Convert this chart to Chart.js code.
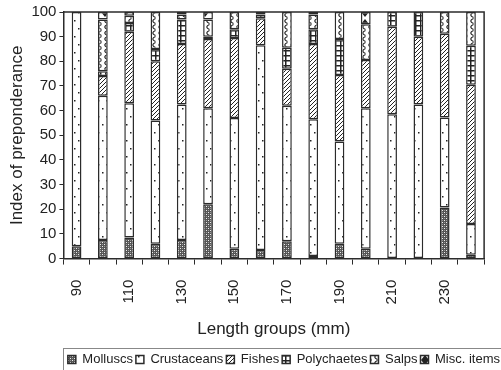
<!DOCTYPE html>
<html>
<head>
<meta charset="utf-8">
<script src="https://cdn.jsdelivr.net/npm/chart.js@4.4.0/dist/chart.umd.min.js"></script>
<style>
html, body { margin: 0; padding: 0; background: #fff; overflow: hidden; }
#wrap { width: 504px; height: 370px; }
</style>
</head>
<body>
<div id="wrap"><canvas id="chart"></canvas></div>
<script>
var lengthGroups = ['90', '100', '110', '120', '130', '140', '150', '160',
                    '170', '180', '190', '200', '210', '220', '230', '240'];

var molluscs    = [5,   7.5,  8.5, 6,  7.5, 22, 4,    3.5, 7,    1,    6,    4,    0,    0,    20.7, 1.5];
var crustaceans = [95,  58.5, 54.5, 50, 55, 39, 53,   83,  55,   55.5, 41.5, 57,   58.5, 62.5, 36.5, 12.5];
var fishes      = [0,   8,    29,  24, 24.5, 28, 32.5, 11,  15,   30.5, 27,   19.5, 35.5, 27.5, 34,   56.5];
var polychaetes = [0,   2,    3.5, 5,  10,  1,  3.5,  1.5, 8.5,  6,    14.5, 0,    6,    10,   0,    15.8];
var salps       = [0,   21,   3,   15, 2,   7,  7,    1,   14.5, 6,    11,   14.5, 0,    0,    8.8,  13.7];
var miscItems   = [0,   3,    1.5, 0,  1,   3,  0,    0,   0,    1,    0,    5,    0,    0,    0,    0];

var ink = '#2b2b2b';
var sans = "'Liberation Sans', Arial, sans-serif";

function makePattern(w, h, draw) {
  var c = document.createElement('canvas');
  c.width = w; c.height = h;
  var g = c.getContext('2d');
  g.fillStyle = '#fff';
  g.fillRect(0, 0, w, h);
  draw(g);
  return c.getContext('2d').createPattern(c, 'repeat');
}

// dense checker
var pMolluscs = makePattern(4, 4, function (g) {
  g.fillStyle = '#555';
  g.fillRect(0, 0, 4, 4);
  g.fillStyle = '#eee';
  g.fillRect(0, 0, 1, 1);
  g.fillRect(2, 2, 1, 1);
  g.fillStyle = '#999';
  g.fillRect(2, 0, 1, 1);
  g.fillRect(0, 2, 1, 1);
});
// sparse dots
var pCrust = makePattern(8, 16, function (g) {
  g.fillStyle = '#222';
  g.fillRect(2, 4, 1.5, 1.5);
  g.fillRect(6, 12, 1.5, 1.5);
});
// diagonal lines
var pFish = makePattern(4, 4, function (g) {
  g.strokeStyle = '#222';
  g.lineWidth = 1;
  g.beginPath();
  g.moveTo(0, 4); g.lineTo(4, 0);
  g.moveTo(-1, 1); g.lineTo(1, -1);
  g.moveTo(3, 5); g.lineTo(5, 3);
  g.stroke();
});
// grid
var pPoly = makePattern(5, 5, function (g) {
  g.fillStyle = '#222';
  g.fillRect(0, 0, 5, 1.5);
  g.fillRect(0, 0, 1.5, 5);
});
// scallops
var pSalps = makePattern(6, 6, function (g) {
  g.strokeStyle = '#222';
  g.lineWidth = 1.2;
  g.beginPath();
  g.moveTo(5.5, 0.5);
  g.quadraticCurveTo(0, 3, 5.5, 5.5);
  g.stroke();
});
// big triangles
var pMisc = makePattern(10, 12, function (g) {
  g.fillStyle = '#222';
  g.beginPath();
  g.moveTo(1, 0); g.lineTo(9, 0); g.lineTo(5, 5); g.closePath();
  g.moveTo(1, 12); g.lineTo(9, 12); g.lineTo(5, 7); g.closePath();
  g.fill();
});

function series(label, values, fill) {
  return {
    label: label,
    data: values,
    backgroundColor: fill,
    borderColor: ink,
    borderWidth: 1.5,
    borderSkipped: false,
    barPercentage: 0.37,
    categoryPercentage: 1
  };
}

var framePlugin = {
  id: 'frame',
  afterDraw: function (chart) {
    var ctx = chart.ctx;
    var a = chart.chartArea;
    ctx.save();
    ctx.strokeStyle = ink;
    ctx.lineWidth = 1.5;
    ctx.beginPath();
    ctx.moveTo(a.left, a.top);
    ctx.lineTo(a.right, a.top);
    ctx.lineTo(a.right, a.bottom);
    ctx.stroke();
    var boxes = chart.legend.legendHitBoxes;
    if (boxes && boxes.length) {
      var minX = boxes[0].left;
      var top = boxes[0].top;
      ctx.strokeStyle = '#888';
      ctx.lineWidth = 1;
      ctx.strokeRect(Math.round(minX) - 4.5, Math.round(top) - 4.5, chart.width, 40);
    }
    ctx.restore();
  }
};

var tickFont = { family: sans, size: 15 };
var titleFont = { family: sans, size: 17 };

new Chart(document.getElementById('chart'), {
  type: 'bar',
  data: {
    labels: lengthGroups,
    datasets: [
      series('Molluscs', molluscs, pMolluscs),
      series('Crustaceans', crustaceans, pCrust),
      series('Fishes', fishes, pFish),
      series('Polychaetes', polychaetes, pPoly),
      series('Salps', salps, pSalps),
      series('Misc. items', miscItems, pMisc)
    ]
  },
  options: {
    responsive: true,
    maintainAspectRatio: false,
    animation: false,
    devicePixelRatio: 1,
    layout: { padding: { top: 6, right: 1, left: 7, bottom: -6 } },
    plugins: {
      tooltip: { enabled: false },
      legend: {
        position: 'bottom',
        align: 'end',
        labels: {
          boxWidth: 8,
          boxHeight: 8,
          padding: 3,
          color: '#222',
          font: { family: sans, size: 13 }
        }
      }
    },
    scales: {
      x: {
        stacked: true,
        grid: { drawOnChartArea: false, drawTicks: true, tickLength: 6, color: ink, lineWidth: 1 },
        border: { color: ink, width: 1.5 },
        ticks: {
          autoSkip: false,
          minRotation: 90,
          maxRotation: 90,
          padding: 15,
          color: '#222',
          font: tickFont,
          callback: function (v, i) { return i % 2 === 0 ? lengthGroups[i] : ''; }
        },
        title: { display: true, text: 'Length groups (mm)', color: '#222', font: titleFont, padding: { top: 0, bottom: 10 } }
      },
      y: {
        stacked: true,
        min: 0,
        max: 100,
        grid: { drawOnChartArea: false, drawTicks: true, tickLength: 4, color: ink },
        border: { color: ink, width: 1.5 },
        ticks: { stepSize: 10, color: '#222', font: tickFont, padding: 3 },
        title: { display: true, text: 'Index of preponderance', color: '#222', font: titleFont, padding: { top: 0, bottom: 1 } }
      }
    }
  },
  plugins: [framePlugin]
});
</script>
</body>
</html>
